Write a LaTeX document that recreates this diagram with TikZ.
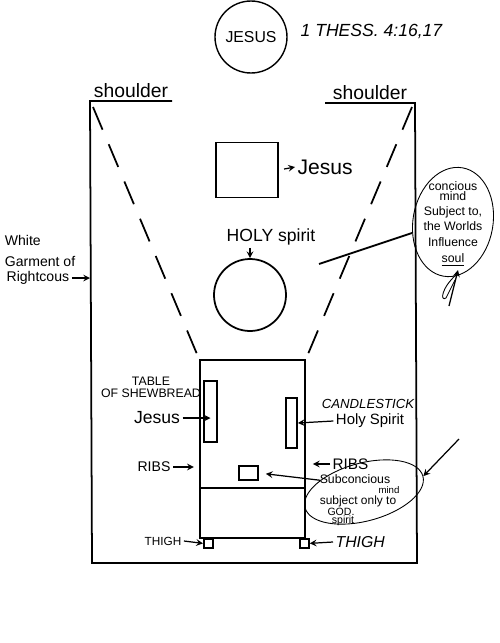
\documentclass[tikz,border=0pt]{standalone}
\usepackage{fontspec}
\setmainfont{Liberation Sans}
\usetikzlibrary{arrows.meta,shapes.geometric,calc}
\newlength\upx
\setlength\upx{0.02cm}
\newcommand{\fs}[1]{\fontsize{#1}{#1}\selectfont}

\begin{document}
\begin{tikzpicture}[x=0.02cm, y=-0.02cm, >=stealth, line width=1pt,
    box/.style={draw, rectangle, inner sep=0pt},
    lbl/.style={inner sep=1pt},
    note/.style={inner sep=0pt, align=center},
    dashline/.style={dash pattern=on 14pt off 9pt},
    pointer/.style={->, line width=0.7pt}]
    \useasboundingbox (0,0) rectangle (500,643);

    % heading
    \node[circle, draw, line width=0.8pt, minimum size={72*\upx}, inner sep=0pt] (jc) at (251,37) {\fs{9}JESUS};
    \node[lbl, anchor=west, font=\itshape\fs{10}] (ref) at (298,31) {1 THESS. 4:16,17};

    % outer garment
    \coordinate (shl) at (172,101);
    \coordinate (tl) at (90,101);
    \coordinate (bl) at (92,563);
    \coordinate (br) at (417,563);
    \coordinate (tr) at (415,103);
    \coordinate (shr) at (325,103);
    \draw (shl) -- (tl) -- (bl) -- (br) -- (tr) -- (shr);
    \node[lbl, anchor=south, font=\fs{11}] (shoul) at (131,100) {shoulder};
    \node[lbl, anchor=south, font=\fs{11}] (shour) at (370,102) {shoulder};

    % body
    \node[box, minimum width={105*\upx}, minimum height={178*\upx}] (body) at (252.5,449) {};
    \draw (body.west |- 0,488) -- (body.east |- 0,488);
    \node[box, minimum size={9*\upx}, anchor=north west] (thl) at (203,538) {};
    \node[box, minimum size={9*\upx}, anchor=north west] (thr) at (299,538) {};
    \node[box, minimum width={13*\upx}, minimum height={61*\upx}] (tab) at (210.5,411.5) {};
    \node[box, minimum width={11*\upx}, minimum height={50*\upx}] (can) at (291.5,423) {};
    \node[box, minimum width={19*\upx}, minimum height={14*\upx}] (sub) at (248.5,473) {};

    \draw[dashline] (93,107) -- (body.north west);
    \draw[dashline] (412,107) -- (body.north east);

    % head and spirit
    \node[box, minimum width={62*\upx}, minimum height={55*\upx}] (sq) at (247,170) {};
    \node[lbl, anchor=west, font=\fs{12}] (sqj) at (295,167) {Jesus};
    \draw[pointer, shorten <=3pt] (sq.east) -- (sqj.west);

    \node[circle, draw, minimum size={72*\upx}, inner sep=0pt] (hs) at (250,295) {};
    \node[lbl, font=\fs{10}] (hsl) at (271,237) {HOLY spirit};
    \draw[pointer] (hsl.south -| hs.north) -- (hs.north);

    % soul
    \node[ellipse, draw, line width=0.5pt, minimum width={80*\upx}, minimum height={110*\upx}, inner sep=0pt, rotate=-10] (soul) at (453,222) {};
    \node[note, font=\fs{7}, text depth=0pt] (soult) at (453,222) {concious\\[-1pt]mind\\[1pt]Subject to,\\[2pt]the Worlds\\[2pt]Influence\\[2pt]\underline{soul}};
    \coordinate (sx) at (319,264);
    \draw (sx) -- (soul.205);
    \coordinate (pen) at (449,306);
    \draw[pointer] (pen) -- (458,270);
    \draw[line width=0.5pt] (457,274) .. controls (441,288) and (440,302) .. (446,298) -- (455,280);

    % left labels
    \node[note, align=left, anchor=north west, font=\fs{8}] (wg) at (4,234) {White\\[4pt]Garment of};
    \node[lbl, anchor=west, font=\fs{8}] (rt) at (4,278) {Rightcous};
    \draw[pointer] (rt.east) -- (rt.east -| tl);

    \node[note, font=\fs{7}] (tabl) at (151,387) {TABLE\\OF SHEWBREAD};
    \node[lbl, font=\fs{10}] (jes) at (157,418) {Jesus};
    \draw[pointer] (jes.east) -- (jes -| tab);

    \node[lbl, font=\fs{8}] (ribl) at (154,467) {RIBS};
    \draw[pointer, shorten >=3pt] (ribl.east) -- (ribl.east -| body.west);

    \node[lbl, font=\fs{6.7}] (thll) at (163,541) {THIGH};
    \draw[pointer] (thll.east) -- (thl.west);

    % right labels
    \node[lbl, font=\itshape\fs{7.5}] (candl) at (368,404) {CANDLESTICK};
    \node[lbl, font=\fs{8.5}] (hsp) at (370,421) {Holy Spirit};
    \draw[pointer] (hsp.west) -- (can.east);

    \node[lbl, anchor=west, font=\fs{8.7}] (ribr) at (330,464) {RIBS};
    \draw[pointer, shorten >=4pt] (ribr.west) -- (ribr.west -| body.east);

    \node[lbl, anchor=west, font=\itshape\fs{9}] (thrl) at (333,542) {THIGH};
    \draw[pointer] (thrl.west) -- (thr.east);

    % subconscious
    \node[ellipse, draw, line width=0.5pt, minimum width={122*\upx}, minimum height={58*\upx}, inner sep=0pt, rotate=15] (subc) at (364,492) {};
    \node[note, font=\fs{7}] (sct) at (355,479) {Subconcious};
    \node[note, font=\fs{5.5}] (scm) at (389,490) {mind};
    \node[note, font=\fs{6.8}] (scs) at (358,501) {subject only to};
    \node[note, font=\fs{6}] (scg) at (341,512) {GOD.};
    \node[note, font=\fs{6}] (scp) at (343,521) {spirit};
    \draw[pointer, shorten >=4pt] (subc.150) -- (sub.east);
    \coordinate (sa) at (459,439);
    \draw[pointer] (sa) -- (subc.east);
\end{tikzpicture}
\end{document}
